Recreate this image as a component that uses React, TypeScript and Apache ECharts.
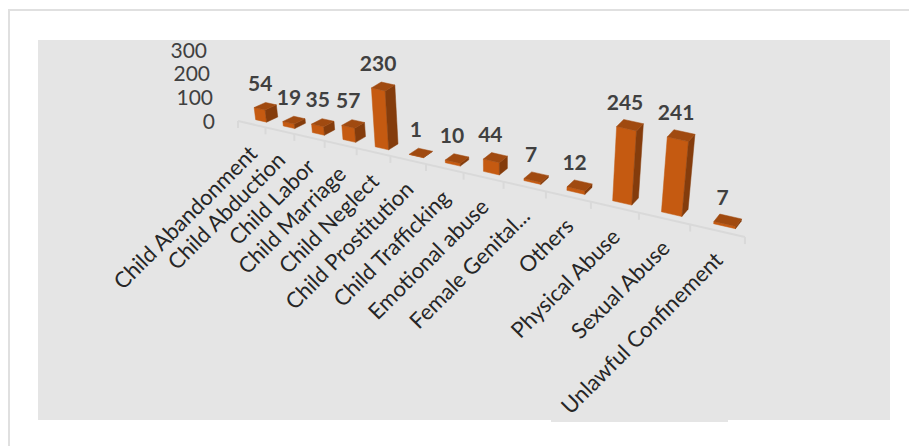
import React, { useEffect, useRef } from "react";
import * as echarts from "echarts";

const categories = [
  "Child Abandonment",
  "Child Abduction",
  "Child Labor",
  "Child Marriage",
  "Child Neglect",
  "Child Prostitution",
  "Child Trafficking",
  "Emotional abuse",
  "Female Genital...",
  "Others",
  "Physical Abuse",
  "Sexual Abuse",
  "Unlawful Confinement",
];
const caseCounts = [54, 19, 35, 57, 230, 1, 10, 44, 7, 12, 245, 241, 7];
const valueTicks = [0, 100, 200, 300];

const FONT = "Lato, 'Open Sans', sans-serif";
const GRID_LEFT = 238;
const GRID_TOP = 51;
const GRID_WIDTH = 507;
const GRID_HEIGHT = 71;
const BAND = GRID_WIDTH / categories.length;

const FRONT = "#C55A11";
const SIDE = "#843C0C";
const TOP = "#A04A10";
const FRAME = "#E0E0E0";

// Floor plane seen in perspective: t runs along the category axis, d into the chart.
function floor(t: number, d: number, x0: number, y0: number): [number, number] {
  const run = (26.81 * t) / (1 - 0.02404 * t);
  return [x0 + run + d * (11.5 - 0.45 * t), y0 + run * 0.229 + d * (-5 - 0.2 * t)];
}

// Raises a floor point; verticals fan out slightly from the centre of the view.
function raise(p: [number, number], rise: number): number[] {
  return [p[0] + (p[0] - 506) * 0.0005 * rise, p[1] - rise];
}

const face = (points: number[][], fill: string) => ({
  type: "polygon",
  shape: { points },
  style: { fill, stroke: fill, lineWidth: 0.5 },
});

function renderAxis(_params: any, api: any) {
  const t = api.value(0) as number;
  const [x0, y0] = api.coord([0, 0]);
  const left = x0 - BAND / 2;
  const base = y0 - 1;
  const p = floor(t, 0, left, base);
  const stroke = { stroke: "#D9D9D9", lineWidth: 2 };
  const children: any[] = [
    { type: "line", shape: { x1: p[0], y1: p[1], x2: p[0], y2: p[1] + 7 }, style: stroke },
  ];
  if (t === 0) {
    const end = floor(categories.length, 0, left, base);
    children.push({
      type: "line",
      shape: { x1: p[0], y1: p[1], x2: end[0], y2: end[1] },
      style: stroke,
    });
  }
  return { type: "group", children };
}

function renderBar(params: any, api: any) {
  const index = params.dataIndex as number;
  const value = api.value(1) as number;
  const [cx, y0] = api.coord([index, 0]);
  const [, yv] = api.coord([index, value]);
  const left = cx - BAND / 2 - index * BAND;
  const base = y0 - 1;
  const rise = (y0 - yv) * (0.95 + 0.033 * index);

  const t0 = index + 0.36;
  const t1 = index + 0.76;
  const d0 = 0.7;
  const d1 = 1.7;
  const fl = floor(t0, d0, left, base);
  const fr = floor(t1, d0, left, base);
  const br = floor(t1, d1, left, base);
  const bl = floor(t0, d1, left, base);
  const tfl = raise(fl, rise);
  const tfr = raise(fr, rise);
  const tbr = raise(br, rise);
  const tbl = raise(bl, rise);

  const labelX = (tfl[0] + tbr[0]) / 2 - 5;
  const labelY = (tfl[1] + tbr[1]) / 2 - 24;
  const tick = floor(index + 0.5, 0, left, base);

  return {
    type: "group",
    children: [
      face([fl, fr, tfr, tfl], FRONT),
      face([fr, br, tbr, tfr], SIDE),
      face([tfl, tfr, tbr, tbl], TOP),
      {
        type: "text",
        style: {
          text: String(value),
          x: labelX,
          y: labelY,
          align: "center",
          verticalAlign: "middle",
          font: `bold 21px ${FONT}`,
          fill: "#404040",
        },
      },
      {
        type: "text",
        x: tick[0] + 1,
        y: tick[1] + 25,
        rotation: Math.PI / 4,
        style: {
          text: categories[index],
          x: 0,
          y: 0,
          align: "right",
          verticalAlign: "middle",
          font: `22px ${FONT}`,
          fill: "#262626",
        },
      },
    ],
  };
}

const tickStyle = (paddingRight: number) => ({
  fontFamily: FONT,
  fontSize: 21,
  color: "#404040",
  padding: [0, paddingRight, 4, 0],
});

export default function App() {
  const ref = useRef<HTMLDivElement>(null);

  useEffect(() => {
    const chart = echarts.init(ref.current!, undefined, { renderer: "svg" });
    chart.setOption({
      animation: false,
      backgroundColor: "#FFFFFF",
      graphic: [
        {
          type: "rect",
          z: -1,
          shape: { x: 8, y: 9, width: 901, height: 2 },
          style: { fill: FRAME },
        },
        {
          type: "rect",
          z: -1,
          shape: { x: 8, y: 9, width: 2, height: 437 },
          style: { fill: FRAME },
        },
        {
          type: "rect",
          z: -1,
          shape: { x: 38, y: 40, width: 852, height: 380 },
          style: { fill: "#E5E5E5" },
        },
        {
          type: "rect",
          z: -1,
          shape: { x: 551, y: 420, width: 177, height: 2 },
          style: { fill: "#E5E5E5" },
        },
      ],
      grid: { left: GRID_LEFT, top: GRID_TOP, width: GRID_WIDTH, height: GRID_HEIGHT },
      xAxis: { type: "category", data: categories, show: false },
      yAxis: {
        type: "value",
        min: valueTicks[0],
        max: valueTicks[valueTicks.length - 1],
        interval: 100,
        axisLine: { show: false },
        axisTick: { show: false },
        splitLine: { show: false },
        axisLabel: {
          margin: 23,
          formatter: (v: number) => `{t${v}|${v}}`,
          rich: {
            t0: tickStyle(0),
            t100: tickStyle(2),
            t200: tickStyle(5),
            t300: tickStyle(8),
          },
        },
      },
      series: [
        {
          type: "custom",
          renderItem: renderAxis,
          coordinateSystem: "cartesian2d",
          data: Array.from({ length: categories.length + 1 }, (_, i) => [i, 0]),
          encode: { x: 0, y: 1 },
          clip: false,
          silent: true,
        },
        {
          type: "custom",
          renderItem: renderBar,
          coordinateSystem: "cartesian2d",
          data: caseCounts.map((v, i) => [i, v]),
          encode: { x: 0, y: 1 },
          clip: false,
          silent: true,
        },
      ],
    });
    return () => chart.dispose();
  }, []);

  return (
    <div
      ref={ref}
      style={{ position: "fixed", left: 0, top: 0, width: 909, height: 446 }}
    />
  );
}
